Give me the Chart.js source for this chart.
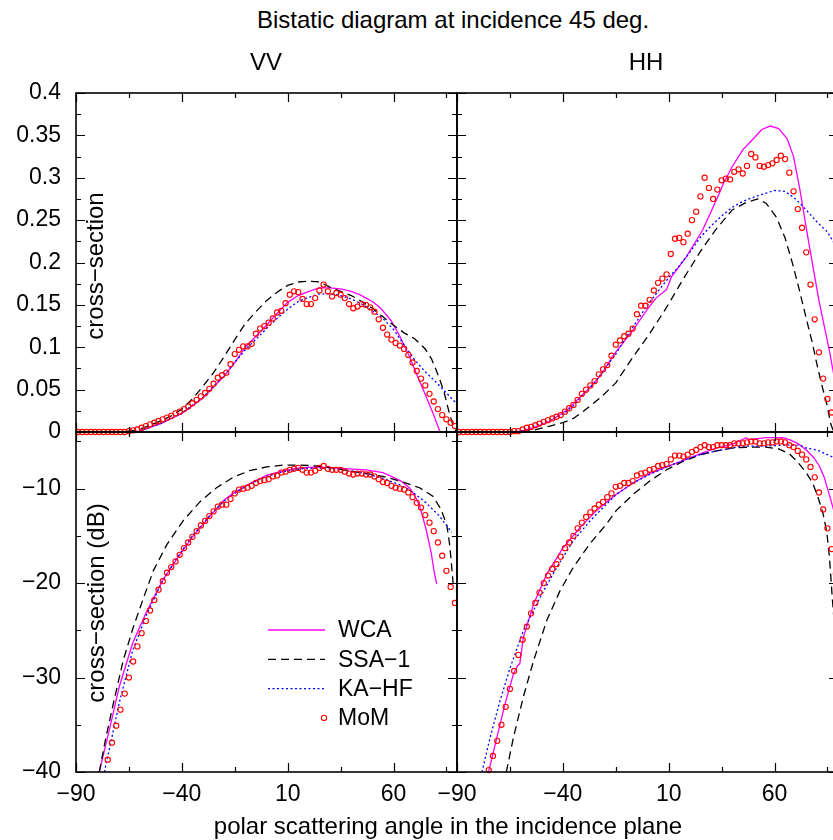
<!DOCTYPE html>
<html>
<head>
<meta charset="utf-8">
<script src="https://cdn.jsdelivr.net/npm/chart.js@4.4.1/dist/chart.umd.min.js"></script>
<style>
  html, body { margin: 0; padding: 0; background: #fff; overflow: hidden; }
  #page { position: relative; width: 860px; height: 840px; overflow: hidden;
          font-family: "Liberation Sans", Arial, sans-serif; color: #000; }
  canvas { position: absolute; }
  .lbl { position: absolute; white-space: nowrap; transform: translate(-50%, -50%);
         font-size: 24px; line-height: 1; z-index: 5; }
  .rot { transform: translate(-50%, -50%) rotate(-90deg); }
</style>
</head>
<body>
<div id="page">
  <canvas id="vv-lin" width="467" height="399" style="left:0px;top:63px"></canvas>
  <canvas id="hh-lin" width="421" height="399" style="left:427px;top:63px"></canvas>
  <canvas id="vv-db" width="467" height="415" style="left:0px;top:402px"></canvas>
  <canvas id="hh-db" width="421" height="415" style="left:427px;top:402px"></canvas>

  <div class="lbl" style="left:453px;top:20px">Bistatic diagram at incidence 45 deg.</div>
  <div class="lbl" style="left:266px;top:62px">VV</div>
  <div class="lbl" style="left:646px;top:62px">HH</div>
  <div class="lbl rot" style="left:95px;top:266px">cross−section</div>
  <div class="lbl rot" style="left:96px;top:603px">cross−section (dB)</div>
  <div class="lbl" style="left:448px;top:826px">polar scattering angle in the incidence plane</div>
</div>

<script>
// ---- data ----
const xTickValues = [-90, -40, 10, 60];
const xMinorValues = [-65, -15, 35, 85];
const yLinTicks = [0, 0.05, 0.1, 0.15, 0.2, 0.25, 0.3, 0.35, 0.4];
const yLinMinor = [0.025, 0.075, 0.125, 0.175, 0.225, 0.275, 0.325, 0.375];
const yDbTicks = [-40, -30, -20, -10];
const yDbMinor = [-35, -25, -15, -5];

// MoM samples sit on odd angles
const momAngles = [-89, -87, -85, -83, -81, -79, -77, -75, -73, -71, -69, -67, -65, -63, -61,
  -59, -57, -55, -53, -51, -49, -47, -45, -43, -41, -39, -37, -35, -33, -31, -29, -27, -25,
  -23, -21, -19, -17, -15, -13, -11, -9, -7, -5, -3, -1, 1, 3, 5, 7, 9, 11, 13, 15, 17, 19,
  21, 23, 25, 27, 29, 31, 33, 35, 37, 39, 41, 43, 45, 47, 49, 51, 53, 55, 57, 59, 61, 63, 65,
  67, 69, 71, 73, 75, 77, 79, 81, 83, 85, 87, 89];

// VV, linear cross-section
const vvLinMom = [0, 0, 0, 0, 0, 0, 0, 0, 0, 0, 0, 0, 0.001, 0.002,
  0.003, 0.005, 0.007, 0.009, 0.011, 0.013, 0.015, 0.017, 0.019, 0.022, 0.024, 0.027, 0.030,
  0.034, 0.038, 0.042, 0.046, 0.051, 0.057, 0.064, 0.067, 0.070, 0.080, 0.092, 0.097, 0.101,
  0.101, 0.104, 0.116, 0.122, 0.125, 0.129, 0.134, 0.141, 0.143, 0.152, 0.162, 0.166, 0.165,
  0.157, 0.151, 0.151, 0.158, 0.167, 0.174, 0.166, 0.160, 0.164, 0.162, 0.158, 0.151, 0.146,
  0.148, 0.151, 0.150, 0.147, 0.142, 0.133, 0.123, 0.115, 0.109, 0.105, 0.102, 0.098, 0.091,
  0.082, 0.072, 0.063, 0.055, 0.045, 0.036, 0.027, 0.020, 0.015, 0.011, 0.007];
const vvLinWca = [[-90, 0], [-70, 0], [-60, 0.001], [-50, 0.01], [-40, 0.022], [-30, 0.04],
  [-20, 0.066], [-15, 0.082], [-10, 0.1], [-5, 0.113], [0, 0.126], [5, 0.14], [10, 0.153],
  [15, 0.161], [20, 0.166], [25, 0.17], [30, 0.17], [35, 0.169], [40, 0.166], [44, 0.162],
  [50, 0.154], [54, 0.146], [59, 0.131], [63, 0.113], [67.5, 0.089], [71.5, 0.065],
  [75.4, 0.042], [79, 0.02], [82, 0]];
const vvLinSsa = [[-90, 0], [-70, 0], [-65, 0.001], [-60, 0.003], [-55, 0.008], [-50, 0.013],
  [-45, 0.019], [-40, 0.027], [-35, 0.039], [-30, 0.054], [-25, 0.07], [-20, 0.089],
  [-15, 0.109], [-10, 0.128], [-5, 0.142], [0, 0.155], [5, 0.165], [10, 0.173], [15, 0.177],
  [20, 0.178], [25, 0.177], [30, 0.171], [35, 0.166], [40, 0.161], [45, 0.154], [50, 0.146],
  [55, 0.136], [60, 0.126], [65, 0.117], [70, 0.11], [75, 0.098], [78, 0.086], [80, 0.074],
  [82, 0.061], [84, 0.046], [86.4, 0.022], [88, 0.009], [89, 0.003], [90, 0]];
const vvLinKa = [[-90, 0], [-70, 0], [-60, 0.001], [-50, 0.01], [-40, 0.022], [-30, 0.041],
  [-20, 0.067], [-10, 0.097], [0, 0.122], [5, 0.134], [10, 0.145], [15, 0.154], [20, 0.159],
  [25, 0.163], [30, 0.163], [35, 0.161], [40, 0.157], [45, 0.151], [50, 0.143], [55, 0.134],
  [60, 0.121], [65, 0.103], [70, 0.085], [75, 0.071], [80, 0.059], [85, 0.046], [90, 0.033]];

// HH, linear cross-section
const hhLinMom = [0, 0, 0, 0, 0, 0, 0, 0, 0, 0, 0, 0, 0, 0.001,
  0.001, 0.003, 0.005, 0.006, 0.008, 0.010, 0.012, 0.014, 0.016, 0.018, 0.020, 0.024, 0.028,
  0.032, 0.038, 0.045, 0.050, 0.055, 0.060, 0.068, 0.074, 0.079, 0.090, 0.103, 0.108, 0.113,
  0.116, 0.122, 0.139, 0.149, 0.149, 0.156, 0.167, 0.176, 0.181, 0.186, 0.210, 0.228, 0.229,
  0.224, 0.234, 0.250, 0.260, 0.278, 0.300, 0.288, 0.275, 0.286, 0.297, 0.299, 0.298, 0.307,
  0.310, 0.305, 0.314, 0.328, 0.324, 0.314, 0.313, 0.315, 0.317, 0.321, 0.326, 0.322, 0.306,
  0.284, 0.263, 0.241, 0.212, 0.174, 0.133, 0.094, 0.063, 0.039, 0.023, 0.012];
const hhLinWca = [[-90, 0], [-65, 0], [-60, 0.001], [-54, 0.005], [-46, 0.013], [-38, 0.026],
  [-29, 0.048], [-22, 0.067], [-16, 0.091], [-7, 0.12], [0, 0.145], [4, 0.158], [9, 0.168],
  [11.3, 0.183], [18.4, 0.207], [26, 0.238], [30, 0.26], [34, 0.282], [36, 0.294],
  [40, 0.313], [45, 0.333], [50, 0.346], [54, 0.357], [58, 0.361], [62, 0.358], [66, 0.346],
  [69, 0.325], [72, 0.286], [76, 0.226], [81, 0.155], [86, 0.095], [90, 0.04]];
const hhLinSsa = [[-90, 0], [-62, 0], [-54, 0.002], [-46, 0.007], [-40, 0.011], [-35, 0.016],
  [-30, 0.025], [-22, 0.041], [-15, 0.058], [-7, 0.088], [1, 0.116], [9, 0.147], [17, 0.181],
  [25, 0.213], [32, 0.238], [40, 0.262], [46, 0.27], [52, 0.275], [56, 0.27], [61, 0.253],
  [65, 0.229], [68.5, 0.199], [71.7, 0.168], [74.8, 0.136], [77.9, 0.105], [80.3, 0.077],
  [82.6, 0.053], [85, 0.03], [86.5, 0.01], [88, 0], [90, 0]];
const hhLinKa = [[-90, 0], [-65, 0], [-60, 0.001], [-50, 0.01], [-45, 0.015], [-40, 0.021],
  [-35, 0.031], [-30, 0.045], [-25, 0.058], [-20, 0.075], [-15, 0.092], [-10, 0.112],
  [-5, 0.131], [0, 0.15], [5, 0.166], [10, 0.182], [15, 0.196], [20, 0.212], [25, 0.23],
  [30, 0.243], [35, 0.255], [40, 0.265], [45, 0.272], [50, 0.277], [55, 0.281], [60, 0.285],
  [65, 0.284], [70, 0.275], [75, 0.262], [80, 0.248], [85, 0.236], [90, 0.215]];

// VV, cross-section in dB
const vvDbMom = [null, null, null, null, null, null, null,
  -38.7, -36.9, -35.1, -33.4, -31.7, -30.0, -28.3, -26.7, -25.3, -24.0, -22.9, -21.8, -20.7,
  -19.8, -18.9, -18.3, -17.7, -17.0, -16.3, -15.7, -15.1, -14.5, -13.9, -13.4, -12.9, -12.4,
  -11.9, -11.7, -11.7, -11.1, -10.5, -10.1, -10.0, -9.9, -9.7, -9.4, -9.2, -9.1, -9.0, -8.7,
  -8.6, -8.3, -8.2, -8.0, -7.9, -7.8, -8.0, -8.3, -8.3, -8.1, -7.8, -7.6, -7.9, -8.0, -8.0,
  -8.0, -8.2, -8.4, -8.5, -8.4, -8.4, -8.5, -8.5, -8.7, -9.0, -9.3, -9.4, -9.7, -9.9, -10.0,
  -10.1, -10.4, -10.9, -11.5, -12.0, -12.8, -13.6, -14.5, -15.7, -17.1, -18.7, -20.4, -22.1];
const vvDbWca = [[-79, -40], [-74.3, -35.6], [-69.6, -31], [-63.3, -26.4], [-57, -23.2],
  [-49.1, -19.7], [-42.8, -17.6], [-35, -15.1], [-27.1, -13], [-20, -11.2], [-15.8, -10.5],
  [-8, -9.5], [0, -8.6], [8, -8.1], [16, -7.8], [24, -7.7], [31, -7.8], [39, -7.9], [47, -8],
  [55, -8.3], [60, -8.8], [63.5, -9.2], [67.5, -9.9], [70, -10.7], [72.3, -11.8],
  [75.4, -14.3], [77.8, -16.8], [79.3, -18.9], [80.4, -20.1]];
const vvDbSsa = [[-79, -40], [-76, -36.5], [-72.4, -32.8], [-67.7, -28.2], [-63, -24.7],
  [-58, -21.5], [-53.5, -18.7], [-47, -15.9], [-39.4, -13.4], [-31.5, -11.4], [-23.6, -9.9],
  [-15.8, -8.8], [-8, -8.1], [0, -7.7], [8, -7.5], [16, -7.5], [24, -7.6], [31, -7.8],
  [39, -8.1], [47, -8.4], [55, -8.7], [63, -9.2], [72.3, -9.9], [78.6, -10.8], [82.5, -12.2],
  [85.2, -13.9], [86.4, -15.7], [87.2, -17.5], [88, -19.6], [88.4, -20.5]];
const vvDbKa = [[-76.6, -40], [-73, -36.3], [-69.6, -32.7], [-63.3, -27.2], [-57, -23.5],
  [-49, -19.7], [-42.8, -17.5], [-35, -15], [-27, -12.9], [-20, -11.3], [-15, -10.5],
  [-8, -9.5], [0, -8.7], [8, -8.2], [16, -7.9], [24, -7.8], [31, -7.9], [39, -8.1],
  [47, -8.4], [55, -8.9], [63, -9.6], [67.5, -10.1], [75.4, -11.5], [81.7, -12.9],
  [84, -13.6], [87.5, -14.6]];

// HH, cross-section in dB
const hhDbMom = [null, null, null, null, null, null, null,
  -39.8, -38.3, -36.7, -35.0, -33.1, -31.2, -29.3, -27.6, -26.0, -24.6, -23.2, -22.1, -21.0,
  -20.0, -19.2, -18.5, -18.0, -17.2, -16.3, -15.7, -15.0, -14.2, -13.6, -13.0, -12.5, -12.1,
  -11.7, -11.4, -10.9, -10.5, -9.8, -9.7, -9.4, -9.4, -9.2, -8.6, -8.4, -8.3, -8.0, -7.9,
  -7.6, -7.5, -7.4, -6.9, -6.5, -6.5, -6.6, -6.4, -6.1, -5.9, -5.6, -5.4, -5.6, -5.6, -5.4,
  -5.4, -5.4, -5.4, -5.2, -5.2, -5.2, -5.1, -5.0, -5.0, -5.2, -5.2, -5.1, -5.1, -5.0, -5.0,
  -5.1, -5.4, -5.6, -6.0, -6.4, -6.9, -7.7, -8.8, -10.4, -12.2, -14.2, -16.4, -19.0];
const hhDbWca = [[-75.1, -40], [-71.1, -36.3], [-67.2, -32.7], [-63.3, -29.6], [-61.5, -28.8],
  [-60.3, -28.5], [-58.6, -25.7], [-53.8, -22.2], [-47.5, -19], [-39.7, -16.2],
  [-31.8, -14.1], [-24, -12.3], [-19.2, -11.4], [-14.7, -10.6], [-6.8, -9.4], [1, -8.4],
  [9, -7.7], [17, -7], [25, -6.3], [32.5, -5.7], [40, -5.3], [46.6, -4.6], [48, -4.8],
  [56, -4.6], [64, -4.6], [67, -4.8], [71, -5.2], [75, -5.9], [78.5, -6.7], [81.2, -7.6],
  [83.5, -8.8], [85.2, -10.1], [87, -11.5], [90, -14]];
const hhDbSsa = [[-66.7, -40], [-63.3, -36.3], [-58.6, -32], [-53.8, -28.2], [-47.5, -23.9],
  [-41.3, -20.8], [-35, -18.3], [-27.1, -15.8], [-19.2, -13.7], [-14.7, -12.3], [-6.8, -10.6],
  [1, -9.2], [9, -8], [17, -7.1], [25, -6.4], [32.5, -6], [40, -5.7], [48, -5.6], [56, -5.6],
  [62, -5.8], [67, -6.3], [71, -7.2], [75, -8.3], [78, -9.4], [80.4, -10.8], [82.8, -12.5],
  [84.7, -14.6], [85.9, -17.1], [86.7, -19.6], [87.2, -21.3], [88.5, -25], [90, -30]];
const hhDbKa = [[-78.2, -40], [-74.3, -36.3], [-69.6, -32.4], [-64.8, -28.9], [-58.6, -25],
  [-50.7, -21.5], [-42.8, -18.3], [-35, -15.5], [-27.1, -13.4], [-19.2, -11.6],
  [-14.7, -10.6], [-6.8, -9.4], [1, -8.5], [9, -7.7], [17, -7], [25, -6.4], [32.5, -6],
  [40, -5.7], [45, -5.5], [56, -5.5], [64, -5.4], [72, -5.4], [75, -5.7], [80, -5.9],
  [86, -6.5], [90, -6.9]];

// ---- styling ----
const MAGENTA = "#ff00ff";
const BLUE = "#0000ff";
const RED = "#ff0000";
const FONT = '"Liberation Sans", Arial, sans-serif';

Chart.defaults.font.family = FONT;
Chart.defaults.color = "#000";

function toXY(pairs) {
  return pairs.map(([x, y]) => ({ x, y }));
}

function formatSigned(value) {
  return value < 0 ? "\u2212" + Math.abs(value) : String(value);
}

function formatLinear(value) {
  return String(Number(value.toFixed(3)));
}

// frame with inward tick marks on all four sides (gnuplot look)
const frameTicks = {
  id: "frameTicks",
  afterDatasetsDraw(chart, args, opts) {
    const { ctx, chartArea: a, scales } = chart;
    const xs = scales.x;
    const ys = scales.y;
    ctx.save();
    ctx.strokeStyle = "#000";
    ctx.lineWidth = 1.2;
    ctx.beginPath();
    const xMark = (v, len) => {
      const p = Math.round(xs.getPixelForValue(v)) + 0.5;
      ctx.moveTo(p, a.bottom); ctx.lineTo(p, a.bottom - len);
      ctx.moveTo(p, a.top); ctx.lineTo(p, a.top + len);
    };
    const yMark = (v, len) => {
      const p = Math.round(ys.getPixelForValue(v)) + 0.5;
      ctx.moveTo(a.left, p); ctx.lineTo(a.left + len, p);
      ctx.moveTo(a.right, p); ctx.lineTo(a.right - len, p);
    };
    opts.xMajor.forEach((v) => xMark(v, 9));
    opts.xMinor.forEach((v) => xMark(v, 5));
    opts.yMajor.forEach((v) => yMark(v, 9));
    opts.yMinor.forEach((v) => yMark(v, 5));
    ctx.stroke();
    ctx.lineWidth = 1.6;
    ctx.strokeRect(a.left, a.top, a.right - a.left, a.bottom - a.top);
    ctx.restore();
  },
};

// key drawn inside the lower VV panel
const legendInside = {
  id: "legendInside",
  afterDraw(chart) {
    const { ctx, chartArea: a } = chart;
    const byLabel = {};
    chart.data.datasets.forEach((ds) => { byLabel[ds.label] = ds; });
    const order = ["WCA", "SSA\u22121", "KA\u2212HF", "MoM"];
    ctx.save();
    ctx.font = "23px " + FONT;
    ctx.textBaseline = "middle";
    ctx.fillStyle = "#000";
    order.forEach((name, i) => {
      const ds = byLabel[name];
      const y = a.top + 198 + i * 29.3;
      const x0 = a.left + 192;
      const x1 = a.left + 249;
      if (ds.showLine) {
        ctx.strokeStyle = ds.borderColor;
        ctx.lineWidth = ds.borderWidth;
        ctx.setLineDash(ds.borderDash || []);
        ctx.beginPath();
        ctx.moveTo(x0, y);
        ctx.lineTo(x1, y);
        ctx.stroke();
        ctx.setLineDash([]);
      } else {
        ctx.strokeStyle = ds.borderColor;
        ctx.lineWidth = ds.pointBorderWidth;
        ctx.beginPath();
        ctx.arc(x1 - 1, y, ds.pointRadius, 0, Math.PI * 2);
        ctx.stroke();
      }
      ctx.fillText(name, a.left + 262, y + 1);
    });
    ctx.restore();
  },
};

function buildPanel(id, cfg) {
  const plugins = [frameTicks];
  if (cfg.withLegend) plugins.push(legendInside);
  return new Chart(document.getElementById(id), {
    type: "scatter",
    data: {
      datasets: [
        {
          label: "MoM",
          data: momAngles.map((a, i) => ({ x: a, y: cfg.mom[i] })),
          showLine: false,
          pointStyle: "circle",
          pointRadius: 2.6,
          pointBorderWidth: 1.1,
          borderColor: RED,
          backgroundColor: "rgba(0,0,0,0)",
          clip: false,
        },
        {
          label: "KA\u2212HF",
          data: toXY(cfg.ka),
          showLine: true,
          borderColor: BLUE,
          borderWidth: 1.3,
          borderDash: [2, 2.5],
          pointRadius: 0,
          tension: 0,
        },
        {
          label: "SSA\u22121",
          data: toXY(cfg.ssa),
          showLine: true,
          borderColor: "#000",
          borderWidth: 1.3,
          borderDash: [8, 5],
          pointRadius: 0,
          tension: 0,
        },
        {
          label: "WCA",
          data: toXY(cfg.wca),
          showLine: true,
          borderColor: MAGENTA,
          borderWidth: 1.3,
          pointRadius: 0,
          tension: 0,
        },
      ],
    },
    options: {
      responsive: false,
      animation: false,
      events: [],
      layout: { padding: cfg.padding },
      plugins: {
        legend: { display: false },
        tooltip: { enabled: false },
        frameTicks: {
          xMajor: xTickValues,
          xMinor: xMinorValues,
          yMajor: cfg.yMajor,
          yMinor: cfg.yMinor,
        },
      },
      scales: {
        x: {
          type: "linear",
          min: -90,
          max: 90,
          display: cfg.showX,
          grid: { display: false, drawTicks: false },
          border: { display: false },
          ticks: {
            padding: 9,
            autoSkip: false,
            maxRotation: 0,
            font: { size: 23 },
            callback: formatSigned,
          },
          afterBuildTicks: (scale) => {
            scale.ticks = xTickValues.map((v) => ({ value: v }));
          },
          afterFit: (scale) => {
            scale.height = cfg.showX ? 45 : 0;
          },
        },
        y: {
          type: "linear",
          min: cfg.yMin,
          max: cfg.yMax,
          display: cfg.showY,
          grid: { display: false, drawTicks: false },
          border: { display: false },
          ticks: {
            padding: 15,
            font: { size: 23 },
            callback: cfg.yFormat,
          },
          afterBuildTicks: (scale) => {
            scale.ticks = cfg.yMajor.map((v) => ({ value: v }));
          },
          afterFit: (scale) => {
            scale.width = cfg.showY ? 76 : 0;
          },
        },
      },
    },
    plugins,
  });
}

buildPanel("vv-lin", {
  mom: vvLinMom, wca: vvLinWca, ssa: vvLinSsa, ka: vvLinKa,
  yMin: 0, yMax: 0.4, yMajor: yLinTicks, yMinor: yLinMinor, yFormat: formatLinear,
  showX: false, showY: true,
  padding: { top: 30, bottom: 30, left: 0, right: 10 },
});
buildPanel("hh-lin", {
  mom: hhLinMom, wca: hhLinWca, ssa: hhLinSsa, ka: hhLinKa,
  yMin: 0, yMax: 0.4, yMajor: yLinTicks, yMinor: yLinMinor, yFormat: formatLinear,
  showX: false, showY: false,
  padding: { top: 30, bottom: 30, left: 30, right: 10 },
});
buildPanel("vv-db", {
  mom: vvDbMom, wca: vvDbWca, ssa: vvDbSsa, ka: vvDbKa,
  yMin: -40, yMax: -4, yMajor: yDbTicks, yMinor: yDbMinor, yFormat: formatSigned,
  showX: true, showY: true, withLegend: true,
  padding: { top: 30, bottom: 0, left: 0, right: 10 },
});
buildPanel("hh-db", {
  mom: hhDbMom, wca: hhDbWca, ssa: hhDbSsa, ka: hhDbKa,
  yMin: -40, yMax: -4, yMajor: yDbTicks, yMinor: yDbMinor, yFormat: formatSigned,
  showX: true, showY: false,
  padding: { top: 30, bottom: 0, left: 30, right: 10 },
});
</script>
</body>
</html>
